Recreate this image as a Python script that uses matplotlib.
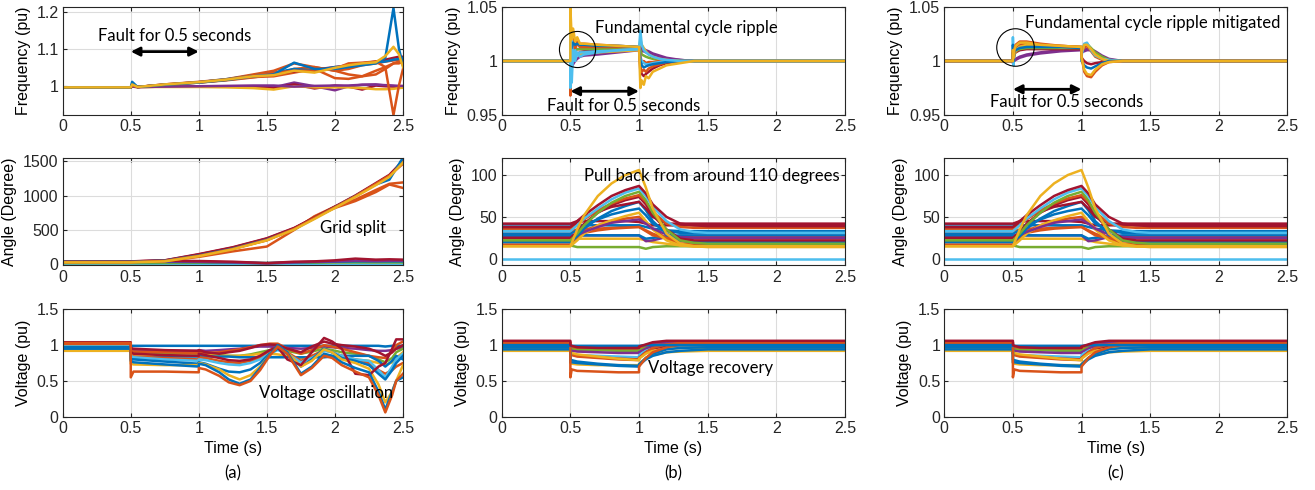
import matplotlib
matplotlib.use("Agg")
import matplotlib.pyplot as plt

# MATLAB default colour order
B, O, Y, P, G, C, R = "#0072BD", "#D95319", "#EDB120", "#7E2F8E", "#77AC30", "#4DBEEE", "#A2142F"

x_ticks = [0, 0.5, 1, 1.5, 2, 2.5]
x_ticklabels = ["0", "0.5", "1", "1.5", "2", "2.5"]

# ---------------- (a) frequency ----------------
ta_f = [0, 0.5, 0.51, 0.55, 0.75, 1.0, 1.2, 1.4, 1.55, 1.7, 1.85, 2.0, 2.1, 2.2, 2.3, 2.37, 2.43, 2.47, 2.5]
fa_purple = [0.995, 0.995, 0.998, 0.996, 0.997, 0.998, 0.998, 0.997, 0.995, 1.008, 0.998, 0.987, 0.998, 1.002, 1.003, 1.0, 0.998, 0.997, 0.997]
fa_dred = [0.995, 0.995, 0.997, 0.996, 0.997, 0.997, 0.997, 0.996, 0.993, 1.003, 0.992, 1.0, 0.997, 0.989, 1.0, 0.998, 0.997, 0.996, 0.996]
fa_yellow2 = [0.995, 0.995, 0.997, 0.996, 0.996, 0.996, 0.995, 0.993, 0.989, 0.998, 0.995, 0.995, 0.995, 0.993, 0.99, 0.99, 0.991, 0.993, 0.994]
fa_purple2 = [0.995, 0.995, 0.997, 0.996, 0.997, 0.998, 0.999, 1.0, 1.0, 0.997, 0.999, 1.0, 1.0, 1.002, 1.002, 1.001, 1.0, 0.999, 0.999]
fa_orange3 = [0.995, 0.995, 1.002, 0.996, 1.002, 1.008, 1.015, 1.023, 1.025, 1.035, 1.045, 1.02, 1.018, 1.025, 1.04, 1.05, 1.06, 1.06, 1.065]
fa_orange4 = [0.995, 0.995, 1.002, 0.996, 1.002, 1.008, 1.014, 1.022, 1.03, 1.045, 1.05, 1.04, 1.045, 1.055, 1.06, 1.065, 1.068, 1.07, 1.07]
fa_red = [0.995, 0.995, 1.002, 0.996, 1.003, 1.009, 1.016, 1.026, 1.033, 1.038, 1.043, 1.05, 1.055, 1.06, 1.065, 1.07, 1.075, 1.078, 1.078]
fa_orange2 = [0.995, 0.995, 1.002, 0.996, 1.003, 1.01, 1.017, 1.03, 1.04, 1.06, 1.05, 1.04, 1.03, 1.025, 1.03, 1.045, 1.06, 1.065, 1.07]
fa_blue2 = [0.995, 0.995, 1.004, 0.996, 1.002, 1.009, 1.017, 1.027, 1.034, 1.045, 1.04, 1.05, 1.052, 1.058, 1.062, 1.065, 1.07, 1.072, 1.075]
fa_orange1 = [0.995, 0.995, 1.002, 0.996, 1.002, 1.009, 1.016, 1.028, 1.035, 1.04, 1.04, 1.045, 1.06, 1.062, 1.065, 1.05, 0.92, 1.0, 1.045]
fa_blue = [0.995, 0.995, 1.01, 0.996, 1.002, 1.008, 1.015, 1.025, 1.03, 1.062, 1.045, 1.045, 1.05, 1.055, 1.06, 1.075, 1.21, 1.1, 1.055]
fa_yellow1 = [0.995, 0.995, 1.003, 0.996, 1.003, 1.009, 1.016, 1.025, 1.028, 1.04, 1.035, 1.048, 1.055, 1.06, 1.063, 1.08, 1.105, 1.085, 1.05]

# ---------------- (a) angle ----------------
ta_a = [0, 0.5, 0.75, 1.0, 1.25, 1.5, 1.7, 1.85, 2.0, 2.15, 2.3, 2.4, 2.5]
aa_yellow2 = [0, 0, 0, 0, 0, 0, 0, 0, 0, 0, 0, 0, 0]
aa_cyan = [10, 10, 10, 10, 10, 10, 10, 10, 10, 10, 10, 10, 10]
aa_green = [20, 20, 22, 25, 25, 20, 25, 25, 30, 30, 30, 30, 30]
aa_blue2 = [35, 35, 38, 35, 30, 20, 30, 35, 40, 45, 45, 45, 45]
aa_purple = [40, 40, 45, 40, 30, 15, 30, 40, 45, 55, 50, 55, 55]
aa_dred2 = [45, 45, 55, 50, 40, 20, 40, 45, 60, 85, 70, 75, 70]
aa_orange1 = [35, 35, 50, 110, 190, 260, 500, 700, 840, 940, 1080, 1170, 1190]
aa_orange2 = [38, 38, 55, 130, 230, 350, 520, 690, 820, 920, 1050, 1160, 1110]
aa_red = [45, 45, 60, 150, 250, 380, 530, 680, 840, 1000, 1180, 1300, 1500]
aa_dred = [42, 42, 58, 145, 245, 375, 525, 680, 835, 995, 1170, 1290, 1510]
aa_blue = [40, 40, 55, 130, 230, 360, 510, 670, 830, 990, 1160, 1230, 1550]
aa_orange3 = [36, 36, 52, 125, 225, 355, 515, 675, 830, 990, 1170, 1290, 1460]
aa_yellow = [30, 30, 45, 120, 220, 350, 505, 660, 820, 980, 1150, 1270, 1480]

# ---------------- (a) voltage ----------------
ta_v = [0, 0.5, 0.5, 0.52, 0.75, 1.0, 1.0, 1.05, 1.15, 1.22, 1.3, 1.38, 1.45, 1.52, 1.58, 1.65,
        1.75, 1.83, 1.92, 1.98, 2.05, 2.15, 2.25, 2.32, 2.37, 2.42, 2.45, 2.5]
va_blue3 = [1.0, 1.0, 0.99, 0.99, 0.99, 0.99, 0.99, 0.99, 0.99, 0.99, 0.99, 0.99, 0.99, 0.99, 0.99, 0.99,
            0.99, 0.99, 0.99, 0.99, 0.99, 0.99, 0.99, 0.99, 0.98, 0.99, 0.99, 0.99]
va_purple = [1.0, 1.0, 0.93, 0.93, 0.92, 0.92, 0.93, 0.92, 0.93, 0.94, 0.95, 0.97, 0.98, 0.98, 0.97, 0.96,
             0.95, 0.96, 0.98, 0.97, 0.96, 0.95, 0.93, 0.92, 0.92, 0.93, 0.95, 0.96]
va_green = [0.99, 0.99, 0.9, 0.9, 0.89, 0.88, 0.89, 0.88, 0.86, 0.85, 0.85, 0.87, 0.9, 0.93, 0.95, 0.92,
            0.88, 0.91, 0.95, 0.93, 0.9, 0.88, 0.85, 0.8, 0.76, 0.82, 0.9, 0.95]
va_yellow2 = [0.94, 0.94, 0.88, 0.87, 0.86, 0.85, 0.87, 0.86, 0.85, 0.85, 0.85, 0.86, 0.88, 0.88, 0.87, 0.85,
              0.82, 0.84, 0.86, 0.85, 0.83, 0.8, 0.78, 0.75, 0.72, 0.76, 0.82, 0.9]
va_orange3 = [1.03, 1.03, 0.92, 0.91, 0.9, 0.89, 0.9, 0.89, 0.9, 0.92, 0.94, 0.97, 1.0, 1.02, 1.02, 0.95,
              0.88, 0.93, 1.0, 0.98, 0.95, 0.9, 0.85, 0.83, 0.82, 0.9, 1.0, 1.05]
va_dred2 = [1.02, 1.02, 0.96, 0.95, 0.93, 0.92, 0.93, 0.9, 0.88, 0.9, 0.92, 0.96, 1.0, 1.01, 1.0, 0.95,
            0.9, 0.98, 1.05, 1.02, 1.0, 0.98, 0.95, 0.9, 0.85, 0.9, 0.95, 1.0]
va_blue4 = [0.96, 0.96, 0.82, 0.81, 0.84, 0.84, 0.85, 0.84, 0.84, 0.84, 0.83, 0.83, 0.83, 0.83, 0.83, 0.83,
            0.83, 0.83, 0.83, 0.84, 0.85, 0.85, 0.85, 0.78, 0.7, 0.78, 0.85, 0.8]
va_orange2 = [1.01, 1.01, 0.85, 0.84, 0.82, 0.8, 0.83, 0.82, 0.78, 0.76, 0.75, 0.78, 0.82, 0.92, 0.98, 0.9,
              0.78, 0.85, 0.93, 0.9, 0.85, 0.8, 0.75, 0.65, 0.6, 0.65, 0.7, 0.75]
va_cyan = [0.98, 0.98, 0.85, 0.83, 0.8, 0.78, 0.8, 0.79, 0.75, 0.73, 0.72, 0.75, 0.8, 0.88, 0.93, 0.88,
           0.76, 0.82, 0.92, 0.9, 0.85, 0.8, 0.78, 0.65, 0.55, 0.7, 0.8, 0.88]
va_blue2 = [0.97, 0.97, 0.8, 0.8, 0.77, 0.74, 0.76, 0.74, 0.67, 0.63, 0.62, 0.66, 0.75, 0.88, 0.95, 0.88,
            0.7, 0.8, 0.95, 0.9, 0.82, 0.78, 0.72, 0.6, 0.52, 0.65, 0.75, 0.85]
va_yellow1 = [0.92, 0.92, 0.74, 0.73, 0.72, 0.72, 0.75, 0.73, 0.66, 0.58, 0.52, 0.58, 0.7, 0.86, 0.98, 0.9,
              0.7, 0.78, 0.94, 0.9, 0.8, 0.75, 0.67, 0.45, 0.2, 0.35, 0.5, 0.72]
va_dred1 = [1.04, 1.04, 0.9, 0.88, 0.86, 0.85, 0.88, 0.86, 0.82, 0.79, 0.78, 0.8, 0.85, 0.93, 0.97, 0.8,
            0.72, 0.9, 1.1, 1.05, 0.95, 0.6, 0.58, 0.7, 0.75, 0.95, 1.08, 1.08]
va_blue1 = [0.95, 0.95, 0.78, 0.76, 0.73, 0.7, 0.74, 0.72, 0.62, 0.52, 0.46, 0.52, 0.68, 0.86, 1.0, 0.9,
            0.6, 0.7, 0.88, 0.85, 0.76, 0.68, 0.62, 0.35, 0.1, 0.35, 0.5, 0.55]
va_orange1 = [1.03, 1.03, 0.55, 0.63, 0.63, 0.62, 0.68, 0.66, 0.57, 0.48, 0.44, 0.5, 0.65, 0.85, 0.98, 0.88,
              0.58, 0.68, 0.85, 0.82, 0.72, 0.63, 0.55, 0.3, 0.06, 0.3, 0.5, 0.6]

# ---------------- (b) frequency ----------------
tb_f = [0, 0.5, 0.5, 0.51, 0.52, 0.535, 0.55, 0.57, 0.6, 0.7, 0.85, 1.0, 1.0, 1.01, 1.02, 1.035, 1.05, 1.07, 1.1, 1.15, 1.2, 1.3, 1.4, 1.5, 2.5]
fb_purple = [1, 1, 0.99, 0.995, 0.997, 1.0, 1.002, 1.004, 1.005, 1.006, 1.008, 1.01, 1.011, 1.01, 1.009, 1.009, 1.008, 1.007, 1.006, 1.004, 1.002, 1.001, 1.0, 1.0, 1.0]
fb_purple2 = [1, 1, 1.0, 1.003, 1.005, 1.006, 1.007, 1.008, 1.009, 1.01, 1.01, 1.011, 1.011, 1.015, 1.011, 1.011, 1.01, 1.009, 1.007, 1.005, 1.003, 1.001, 1.0, 1.0, 1.0]
fb_dred = [1, 1, 1.01, 1.008, 1.012, 1.01, 1.011, 1.011, 1.011, 1.011, 1.011, 1.011, 1.011, 0.99, 0.988, 0.986, 0.988, 0.99, 0.993, 0.996, 0.998, 1.0, 1.0, 1.0, 1.0]
fb_green = [1, 1, 1.015, 1.008, 1.012, 1.01, 1.011, 1.011, 1.011, 1.011, 1.012, 1.012, 1.012, 1.01, 1.006, 1.005, 1.004, 1.003, 1.002, 1.001, 1.0, 1.0, 1.0, 1.0, 1.0]
fb_orange = [1, 1, 0.968, 1.0, 1.02, 1.012, 1.018, 1.016, 1.016, 1.015, 1.014, 1.013, 1.013, 0.995, 0.99, 0.992, 0.99, 0.993, 0.995, 0.997, 0.999, 1.0, 1.0, 1.0, 1.0]
fb_orange2 = [1, 1, 1.03, 1.015, 1.02, 1.012, 1.016, 1.013, 1.013, 1.013, 1.013, 1.012, 1.012, 1.005, 0.998, 1.0, 0.998, 0.999, 0.999, 1.0, 1.0, 1.0, 1.0, 1.0, 1.0]
fb_yellow2 = [1, 1, 1.01, 1.002, 1.006, 1.004, 1.006, 1.006, 1.007, 1.008, 1.009, 1.01, 1.011, 1.02, 1.015, 1.012, 1.009, 1.006, 1.004, 1.002, 1.001, 1.0, 1.0, 1.0, 1.0]
fb_cyan2 = [1, 1, 0.975, 1.02, 1.0, 1.01, 1.005, 1.008, 1.008, 1.009, 1.01, 1.011, 1.012, 1.002, 1.0, 0.998, 0.997, 0.997, 0.998, 0.999, 1.0, 1.0, 1.0, 1.0, 1.0]
fb_blue = [1, 1, 1.02, 1.012, 1.017, 1.015, 1.016, 1.015, 1.015, 1.014, 1.014, 1.013, 1.012, 1.0, 0.996, 0.994, 0.995, 0.996, 0.997, 0.998, 0.999, 1.0, 1.0, 1.0, 1.0]
fb_cyan = [1, 1, 1.035, 0.98, 1.01, 1.0, 1.008, 1.004, 1.006, 1.008, 1.01, 1.011, 1.012, 1.028, 1.015, 1.01, 1.008, 1.006, 1.004, 1.002, 1.001, 1.0, 1.0, 1.0, 1.0]
fb_yellow = [1, 1, 1.05, 1.02, 1.03, 1.018, 1.022, 1.016, 1.016, 1.015, 1.014, 1.013, 1.013, 0.975, 0.982, 0.978, 0.986, 0.984, 0.99, 0.993, 0.996, 0.998, 1.0, 1.0, 1.0]

# ---------------- (c) frequency ----------------
tc_f = [0, 0.5, 0.5, 0.505, 0.51, 0.52, 0.55, 0.6, 0.7, 0.85, 1.0, 1.0, 1.02, 1.04, 1.07, 1.1, 1.15, 1.2, 1.3, 1.4, 2.5]
fc_purple = [1, 1, 1.0, 1.0, 1.001, 1.002, 1.004, 1.006, 1.008, 1.01, 1.011, 1.01, 1.011, 1.011, 1.011, 1.009, 1.005, 1.002, 1.0, 1.0, 1.0]
fc_purple2 = [1, 1, 0.998, 1.0, 1.0, 1.001, 1.003, 1.005, 1.007, 1.009, 1.01, 1.008, 1.009, 1.01, 1.01, 1.008, 1.004, 1.001, 1.0, 1.0, 1.0]
fc_dred = [1, 1, 1.005, 1.002, 1.006, 1.008, 1.01, 1.011, 1.011, 1.011, 1.011, 1.003, 1.0, 0.998, 0.997, 0.998, 0.999, 1.0, 1.0, 1.0, 1.0]
fc_green = [1, 1, 1.008, 1.002, 1.006, 1.009, 1.011, 1.012, 1.012, 1.012, 1.012, 1.01, 1.015, 1.016, 1.012, 1.008, 1.004, 1.001, 1.0, 1.0, 1.0]
fc_orange2 = [1, 1, 1.008, 1.002, 1.007, 1.011, 1.015, 1.016, 1.015, 1.014, 1.013, 1.01, 1.012, 1.014, 1.009, 1.004, 1.001, 1.0, 1.0, 1.0, 1.0]
fc_cyan = [1, 1, 1.022, 0.996, 1.008, 1.01, 1.013, 1.014, 1.014, 1.013, 1.013, 1.005, 1.016, 1.017, 1.01, 1.005, 1.002, 1.001, 1.0, 1.0, 1.0]
fc_yellow2 = [1, 1, 1.006, 1.002, 1.006, 1.009, 1.013, 1.015, 1.014, 1.013, 1.013, 1.008, 1.015, 1.015, 1.011, 1.006, 1.002, 1.0, 1.0, 1.0, 1.0]
fc_blue = [1, 1, 1.015, 1.0, 1.008, 1.01, 1.012, 1.013, 1.013, 1.013, 1.012, 1.0, 0.996, 0.994, 0.993, 0.995, 0.998, 1.0, 1.0, 1.0, 1.0]
fc_orange = [1, 1, 1.01, 1.003, 1.01, 1.015, 1.018, 1.018, 1.016, 1.014, 1.013, 1.005, 0.99, 0.986, 0.985, 0.99, 0.996, 0.999, 1.0, 1.0, 1.0]
fc_yellow = [1, 1, 1.01, 1.003, 1.01, 1.014, 1.017, 1.017, 1.015, 1.014, 1.013, 1.003, 0.992, 0.988, 0.987, 0.992, 0.997, 0.999, 1.0, 1.0, 1.0]

# ---------------- (b)/(c) angle ----------------
tb_a = [0, 0.5, 0.55, 0.6, 0.7, 0.8, 0.9, 1.0, 1.05, 1.1, 1.2, 1.3, 1.4, 1.5, 2.5]
ab_cyan0 = [0, 0, 0, 0, 0, 0, 0, 0, 0, 0, 0, 0, 0, 0, 0]
ab_green2 = [16, 16, 14, 14, 14, 14, 14, 14, 12, 14, 15, 15, 15, 15, 15]
ab_yellow3 = [24, 24, 24, 24, 24, 24, 24, 24, 22, 20, 18, 16, 15, 15, 15]
ab_purple = [28, 28, 28, 28, 28, 28, 28, 28, 21, 22, 26, 27, 27, 27, 27]
ab_blue4 = [27, 27, 28, 28, 28, 28, 28, 28, 24, 25, 27, 28, 28, 28, 28]
ab_orange3 = [33, 33, 35, 36, 36, 37, 38, 38, 33, 28, 25, 25, 25, 25, 25]
ab_blue3 = [41, 41, 40, 40, 40, 40, 40, 40, 38, 36, 34, 33, 33, 33, 33]
ab_dred3 = [37, 37, 44, 45, 45, 45, 45, 44, 42, 40, 40, 40, 40, 40, 40]
ab_orange2 = [20, 20, 27, 31, 34, 36, 37, 38, 34, 30, 24, 21, 20, 20, 20]
ab_orange = [17, 17, 25, 33, 40, 45, 48, 50, 44, 36, 24, 18, 17, 17, 17]
ab_yellow2 = [15, 15, 22, 30, 40, 46, 51, 55, 45, 35, 22, 16, 15, 15, 15]
ab_purple2 = [25, 25, 28, 32, 38, 43, 45, 47, 42, 36, 29, 26, 25, 25, 25]
ab_blue2 = [30, 30, 34, 40, 47, 53, 57, 60, 52, 42, 33, 31, 31, 31, 31]
ab_blue = [20, 20, 27, 36, 48, 57, 63, 68, 58, 45, 30, 22, 20, 20, 20]
ab_red2 = [42, 42, 45, 50, 56, 62, 65, 68, 60, 50, 42, 42, 42, 42, 42]
ab_dred2 = [25, 25, 32, 42, 55, 64, 70, 74, 65, 52, 35, 24, 22, 22, 22]
ab_red = [35, 35, 40, 47, 58, 66, 72, 76, 68, 56, 42, 38, 37, 37, 37]
ab_green = [22, 22, 30, 40, 55, 67, 75, 80, 70, 55, 35, 22, 19, 18, 18]
ab_cyan = [33, 33, 40, 48, 60, 71, 79, 84, 75, 62, 45, 35, 32, 31, 31]
ab_dred = [38, 38, 45, 52, 64, 75, 82, 87, 78, 65, 50, 42, 40, 39, 39]
ab_yellow = [15, 15, 35, 52, 75, 90, 100, 106, 85, 60, 30, 18, 15, 14, 14]

# ---------------- (b)/(c) voltage ----------------
tb_v = [0, 0.5, 0.5, 0.51, 0.55, 0.7, 0.85, 1.0, 1.0, 1.05, 1.1, 1.2, 1.3, 1.5, 2.5]
vb_purple2 = [1.04, 1.04, 0.97, 0.97, 0.96, 0.95, 0.95, 0.95, 0.97, 1.0, 1.02, 1.04, 1.04, 1.04, 1.04]
vb_orange3 = [1.01, 1.01, 0.97, 0.96, 0.95, 0.95, 0.95, 0.95, 0.96, 0.98, 1.0, 1.01, 1.01, 1.01, 1.01]
vb_green = [0.99, 0.99, 0.95, 0.94, 0.93, 0.93, 0.92, 0.92, 0.93, 0.96, 0.98, 0.99, 0.99, 0.99, 0.99]
vb_purple = [1.02, 1.02, 0.93, 0.92, 0.91, 0.9, 0.89, 0.89, 0.9, 0.95, 0.99, 1.01, 1.02, 1.02, 1.02]
vb_cyan = [0.98, 0.98, 0.88, 0.87, 0.86, 0.85, 0.84, 0.83, 0.86, 0.92, 0.95, 0.97, 0.98, 0.98, 0.98]
vb_dred2 = [1.0, 1.0, 0.88, 0.87, 0.85, 0.83, 0.81, 0.8, 0.82, 0.9, 0.95, 0.99, 1.0, 1.0, 1.0]
vb_orange2 = [1.03, 1.03, 0.88, 0.86, 0.84, 0.82, 0.8, 0.79, 0.82, 0.9, 0.96, 1.01, 1.03, 1.03, 1.03]
vb_yellow2 = [0.96, 0.96, 0.9, 0.89, 0.87, 0.84, 0.81, 0.79, 0.81, 0.88, 0.92, 0.95, 0.96, 0.96, 0.96]
vb_yellow = [0.92, 0.92, 0.75, 0.74, 0.73, 0.72, 0.72, 0.72, 0.74, 0.82, 0.86, 0.9, 0.91, 0.92, 0.92]
vb_blue2 = [0.97, 0.97, 0.76, 0.76, 0.75, 0.73, 0.71, 0.7, 0.73, 0.82, 0.88, 0.94, 0.96, 0.97, 0.97]
vb_blue = [0.94, 0.94, 0.8, 0.79, 0.77, 0.74, 0.72, 0.71, 0.72, 0.8, 0.85, 0.9, 0.92, 0.94, 0.94]
vb_orange = [1.04, 1.04, 0.55, 0.66, 0.64, 0.63, 0.62, 0.62, 0.7, 0.82, 0.9, 0.97, 1.01, 1.04, 1.04]
vb_blue3 = [1.0, 1.0, 0.99, 0.99, 0.99, 0.99, 0.99, 0.99, 0.99, 1.0, 1.0, 1.0, 1.0, 1.0, 1.0]
vb_dred = [1.06, 1.06, 1.0, 0.99, 0.97, 0.96, 0.96, 0.96, 0.98, 1.01, 1.04, 1.06, 1.06, 1.06, 1.06]

# ---------------- figure ----------------
TICK_FONT = ["Liberation Sans", "DejaVu Sans"]
NOTE_FONT = ["Lato", "DejaVu Sans"]
plt.rcParams["font.family"] = TICK_FONT

fig = plt.figure(figsize=(13.15, 4.9), dpi=100)
W, H = 1315.0, 490.0
cols = [(62.7, 403.0), (501.7, 845.0), (944.3, 1287.3)]
rows = [(7.0, 115.0), (158.3, 265.5), (309.3, 416.7)]


def make_ax(ci, ri):
    x0, x1 = cols[ci]
    y0, y1 = rows[ri]
    ax = fig.add_axes([x0 / W, 1 - y1 / H, (x1 - x0) / W, (y1 - y0) / H])
    ax.set_xlim(0, 2.5)
    ax.set_xticks(x_ticks)
    ax.set_xticklabels(x_ticklabels)
    ax.grid(True, color="#dcdcdc", lw=0.8)
    ax.set_axisbelow(True)
    ax.tick_params(direction="in", length=3, top=True, right=True, labelsize=11.5,
                   colors="#262626", pad=3)
    for s in ax.spines.values():
        s.set_color("#262626")
        s.set_linewidth(0.8)
    return ax


def draw(ax, t, series):
    for vals, col in series:
        assert len(vals) == len(t), (len(vals), len(t))
        ax.plot(t, vals, color=col, lw=1.8, solid_joinstyle="round")


def arrow(ax, y):
    ax.annotate("", xy=(1.0, y), xytext=(0.5, y),
                arrowprops=dict(arrowstyle="<|-|>", color="k", lw=2, mutation_scale=13,
                                shrinkA=0, shrinkB=0))


def note(ax, x, y, s):
    ax.text(x, y, s, fontsize=12, family=NOTE_FONT, va="center", ha="left", color="k")


# (a) frequency
ax = make_ax(0, 0)
draw(ax, ta_f, [(fa_purple, P), (fa_dred, R), (fa_yellow2, Y), (fa_purple2, P),
                (fa_orange3, O), (fa_orange4, O), (fa_red, R), (fa_orange2, O),
                (fa_blue2, B), (fa_orange1, O), (fa_blue, B), (fa_yellow1, Y)])
ax.set_ylim(0.92, 1.213)
ax.set_yticks([1, 1.1, 1.2])
ax.set_yticklabels(["1", "1.1", "1.2"])
ax.set_ylabel("Frequency (pu)", fontsize=11.5)
arrow(ax, 1.092)
note(ax, 0.26, 1.134, "Fault for 0.5 seconds")

# (a) angle
ax = make_ax(0, 1)
draw(ax, ta_a, [(aa_yellow2, Y), (aa_cyan, C), (aa_green, G), (aa_blue2, B), (aa_purple, P),
                (aa_dred2, R), (aa_orange1, O), (aa_orange2, O), (aa_red, R), (aa_dred, R),
                (aa_blue, B), (aa_orange3, O), (aa_yellow, Y)])
ax.set_ylim(-15, 1540)
ax.set_yticks([0, 500, 1000, 1500])
ax.set_yticklabels(["0", "500", "1000", "1500"])
ax.set_ylabel("Angle (Degree)", fontsize=11.5)
note(ax, 1.89, 530, "Grid split")

# (a) voltage
ax = make_ax(0, 2)
draw(ax, ta_v, [(va_blue3, B), (va_purple, P), (va_green, G), (va_yellow2, Y), (va_orange3, O),
                (va_dred2, R), (va_blue4, B), (va_orange2, O), (va_cyan, C), (va_blue2, B),
                (va_yellow1, Y), (va_dred1, R), (va_blue1, B), (va_orange1, O)])
ax.set_ylim(0, 1.5)
ax.set_yticks([0, 0.5, 1, 1.5])
ax.set_yticklabels(["0", "0.5", "1", "1.5"])
ax.set_ylabel("Voltage (pu)", fontsize=11.5)
ax.set_xlabel("Time (s)", fontsize=11.5)
note(ax, 1.44, 0.33, "Voltage oscillation")

# (b) frequency
ax = make_ax(1, 0)
draw(ax, tb_f, [(fb_purple, P), (fb_purple2, P), (fb_dred, R), (fb_green, G), (fb_orange, O),
                (fb_orange2, O), (fb_yellow2, Y), (fb_cyan2, C), (fb_blue, B), (fb_cyan, C),
                (fb_yellow, Y)])
ax.set_ylim(0.95, 1.05)
ax.set_yticks([0.95, 1, 1.05])
ax.set_yticklabels(["0.95", "1", "1.05"])
ax.set_ylabel("Frequency (pu)", fontsize=11.5)
ax.plot([0.548], [1.011], "o", ms=26, mfc="none", mec="k", mew=0.8)
arrow(ax, 0.972)
note(ax, 0.327, 0.958, "Fault for 0.5 seconds")
note(ax, 0.68, 1.031, "Fundamental cycle ripple")

# (c) frequency
ax = make_ax(2, 0)
draw(ax, tc_f, [(fc_purple, P), (fc_purple2, P), (fc_dred, R), (fc_green, G), (fc_orange2, O),
                (fc_cyan, C), (fc_yellow2, Y), (fc_blue, B), (fc_orange, O), (fc_yellow, Y)])
ax.set_ylim(0.95, 1.05)
ax.set_yticks([0.95, 1, 1.05])
ax.set_yticklabels(["0.95", "1", "1.05"])
ax.set_ylabel("Frequency (pu)", fontsize=11.5)
ax.plot([0.515], [1.0134], "o", ms=27, mfc="none", mec="k", mew=0.8)
arrow(ax, 0.9738)
note(ax, 0.333, 0.962, "Fault for 0.5 seconds")
note(ax, 0.589, 1.0354, "Fundamental cycle ripple mitigated")

angle_series = [(ab_cyan0, C), (ab_green2, G), (ab_yellow3, Y), (ab_purple, P), (ab_blue4, B),
                (ab_orange3, O), (ab_blue3, B), (ab_dred3, R), (ab_orange2, O), (ab_orange, O),
                (ab_yellow2, Y), (ab_purple2, P), (ab_blue2, B), (ab_blue, B), (ab_red2, R),
                (ab_dred2, R), (ab_red, O), (ab_green, G), (ab_cyan, C), (ab_dred, R),
                (ab_yellow, Y)]
volt_series = [(vb_purple2, P), (vb_orange3, O), (vb_green, G), (vb_purple, P), (vb_cyan, C),
               (vb_dred2, R), (vb_orange2, O), (vb_yellow2, Y), (vb_yellow, Y), (vb_blue2, B),
               (vb_blue, B), (vb_orange, O), (vb_blue3, B), (vb_dred, R)]

for ci in (1, 2):
    ax = make_ax(ci, 1)
    draw(ax, tb_a, angle_series)
    ax.set_ylim(-8, 120)
    ax.set_yticks([0, 50, 100])
    ax.set_yticklabels(["0", "50", "100"])
    ax.set_ylabel("Angle (Degree)", fontsize=11.5)
    if ci == 1:
        note(ax, 0.6, 99, "Pull back from around 110 degrees")

    ax = make_ax(ci, 2)
    draw(ax, tb_v, volt_series)
    ax.set_ylim(0, 1.5)
    ax.set_yticks([0, 0.5, 1, 1.5])
    ax.set_yticklabels(["0", "0.5", "1", "1.5"])
    ax.set_ylabel("Voltage (pu)", fontsize=11.5)
    ax.set_xlabel("Time (s)", fontsize=11.5)
    if ci == 1:
        note(ax, 1.065, 0.675, "Voltage recovery")

for lab, xc in (("(a)", 233), ("(b)", 673), ("(c)", 1116)):
    fig.text(xc / W, 1 - 473 / H, lab, fontsize=12, family=NOTE_FONT, ha="center", va="center")

fig.savefig("out.png", dpi=100)
